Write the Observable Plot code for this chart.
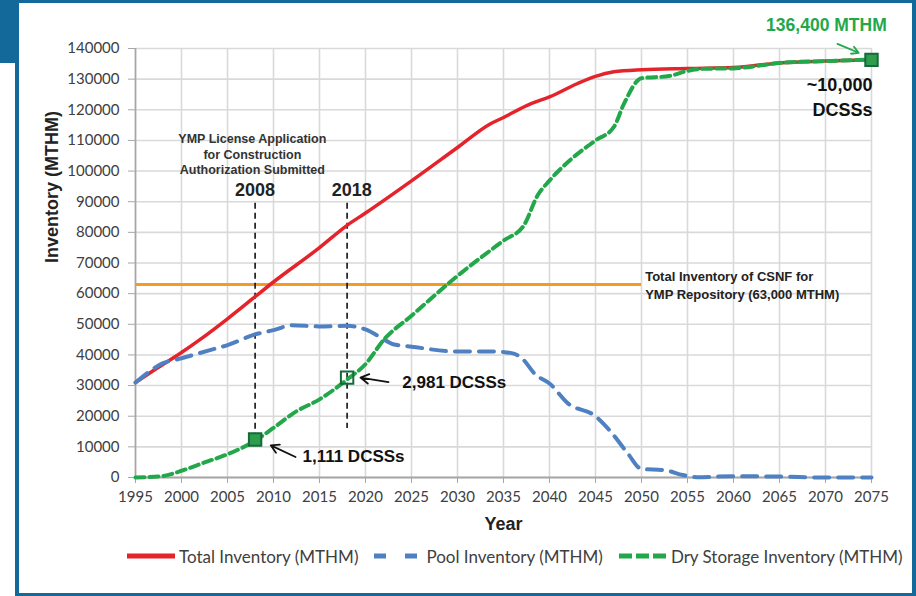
<!DOCTYPE html>
<html>
<head>
<meta charset="utf-8">
<script src="https://cdn.jsdelivr.net/npm/d3@7"></script>
<script src="https://cdn.jsdelivr.net/npm/@observablehq/plot@0.6"></script>
<style>
  body { margin: 0; background: #fff; }
  #wrap { position: relative; width: 916px; height: 596px; overflow: hidden; background: #fff; }
  #chart { position: absolute; left: 0; top: 0; }
  #frame { position: absolute; left: 15px; top: 0; width: 893px; height: 590px; border-style: solid; border-color: #13699a; border-width: 3px 4px 3px 4px; pointer-events: none; }
  #corner { position: absolute; left: 0; top: 0; width: 19px; height: 63px; background: #13699a; }
  #legend { position: absolute; top: 544px; left: 127px; height: 24px; display: flex; align-items: center; gap: 16px; font-family: Lato, sans-serif; font-size: 17px; color: #404040; white-space: nowrap; }
  .item { display: flex; align-items: center; gap: 4px; }
</style>
</head>
<body>
<div id="wrap">
  <div id="chart"></div>
  <div id="legend"></div>
  <div id="frame"></div>
  <div id="corner"></div>
</div>
<script>
// ---- data ----
const totalYears  = [1995, 1997, 2000, 2002, 2005, 2008, 2010, 2015, 2018, 2020, 2025, 2030, 2033.5, 2035, 2038, 2040, 2043, 2045, 2047, 2050, 2055, 2060, 2065, 2070, 2075];
const totalValues = [31000, 35000, 40800, 45000, 51800, 59000, 63800, 75000, 82300, 86300, 96800, 107700, 115300, 117500, 122000, 124200, 128500, 130900, 132400, 133100, 133500, 133800, 135300, 135900, 136300];

const poolYears  = [1995, 1998, 2000, 2003, 2005, 2008, 2010, 2012, 2015, 2018, 2020, 2021.5, 2023, 2025, 2030, 2034, 2036, 2037, 2038.5, 2040, 2042, 2045, 2046.5, 2048.5, 2050, 2052.5, 2054.5, 2056, 2060, 2065, 2070, 2075];
const poolValues = [31000, 37300, 38900, 41500, 43200, 46700, 48100, 49700, 49300, 49500, 48300, 46000, 43500, 42700, 41100, 41100, 40500, 38900, 33500, 30700, 24200, 20000, 15500, 7900, 2800, 2400, 800, 100, 400, 300, 0, 0];

const dryYears  = [1995, 1998, 2000, 2002.5, 2005, 2008, 2010, 2012.5, 2015, 2018, 2020, 2022, 2025, 2030, 2035, 2037.2, 2038.7, 2040, 2042.4, 2045, 2047, 2048.1, 2050, 2053, 2055, 2057, 2060, 2063, 2065, 2070, 2075];
const dryValues = [0, 500, 2200, 4900, 7600, 12000, 16200, 21600, 25500, 32000, 37000, 45000, 52800, 65800, 77300, 82200, 92000, 96900, 104000, 110000, 114400, 122000, 130300, 131000, 132700, 133400, 133500, 134500, 135300, 135900, 136400];

const xTicks = d3.range(1995, 2076, 5);
const yTicks = d3.range(0, 140001, 10000);

const csnfLimit = 63000;
const csnfLimitEnd = 2050;
const csnfLabel = "Total Inventory of CSNF for\nYMP Repository (63,000 MTHM)";

const eventYears = [2008, 2018];
const eventLabels = ["2008", "2018"];
const eventLineTop = 89500;
const eventLineBottom = [12400, 16000];
const ympLabel = "YMP License Application\nfor Construction\nAuthorization Submitted";

const markerYears  = [2008, 2018, 2075];
const markerValues = [12400, 32600, 136300];
const markerFilled = [true, false, true];

const dcssLabels = ["1,111 DCSSs", "2,981 DCSSs"];
const dcssYears = [2013.15, 2024];
const dcssValues = [7000, 31150];
const arrowFrom = [[2012.4, 6700], [2022.5, 31150]];
const arrowTo   = [[2009.7, 10500], [2019.45, 32600]];

const finalLabel = "136,400 MTHM";
const finalCaskLabel = "~10,000\nDCSSs";
const greenArrowFrom = [2071.3, 141500];
const greenArrowTo = [2073.6, 138600];

const legendNames = ["Total Inventory (MTHM)", "Pool Inventory (MTHM)", "Dry Storage Inventory (MTHM)"];
const colors = {total: "#e5232b", pool: "#4f81c2", dry: "#22a84a", limit: "#f59a23", marker: "#2e9e4c", markerStroke: "#17683a", arrowGreen: "#22a84a"};

// ---- build ----
const toRows = (years, values) => years.map((year, i) => ({year, value: values[i]}));
const total = toRows(totalYears, totalValues);
const pool = toRows(poolYears, poolValues);
const dry = toRows(dryYears, dryValues);
const markers = markerYears.map((year, i) => ({year, value: markerValues[i], filled: markerFilled[i]}));
const events = eventYears.map((year, i) => ({year, label: eventLabels[i], bottom: eventLineBottom[i]}));
const dcss = dcssLabels.map((label, i) => ({label, year: dcssYears[i], value: dcssValues[i]}));
const arrows = arrowFrom.map((f, i) => ({x1: f[0], y1: f[1], x2: arrowTo[i][0], y2: arrowTo[i][1]}));

const bold = {fontFamily: "Liberation Sans, Arial, sans-serif", fontWeight: "bold"};

const chart = Plot.plot({
  width: 916,
  height: 540,
  marginLeft: 135,
  marginRight: 45,
  marginTop: 48,
  marginBottom: 63,
  x: {domain: [1995, 2075]},
  y: {domain: [0, 140000]},
  style: {fontFamily: "Lato, sans-serif", fontSize: "15px", color: "#404040", background: "transparent", overflow: "visible"},
  marks: [
    Plot.gridX(xTicks, {stroke: "#d9d9d9", strokeOpacity: 1, strokeWidth: 1.6}),
    Plot.gridY(yTicks, {stroke: "#d9d9d9", strokeOpacity: 1, strokeWidth: 1.6}),
    Plot.ruleX([1995], {stroke: "#a6a6a6", strokeWidth: 1.6}),
    Plot.ruleY([0], {stroke: "#a6a6a6", strokeWidth: 2}),
    Plot.axisX(xTicks, {tickFormat: "d", tickSize: 6, tickPadding: 8, stroke: "#a6a6a6", fill: "#404040", label: null}),
    Plot.axisY(yTicks, {tickFormat: "d", tickSize: 7, tickPadding: 9, stroke: "#a6a6a6", fill: "#404040", label: null}),
    Plot.text(["Year"], {frameAnchor: "bottom", dy: 52, fontSize: 18, fill: "#222", ...bold}),
    Plot.text(["Inventory (MTHM)"], {frameAnchor: "left", dx: -83, rotate: -90, fontSize: 18, fill: "#222", ...bold}),
    // CSNF limit
    Plot.ruleY([csnfLimit], {x1: 1995, x2: csnfLimitEnd, stroke: colors.limit, strokeWidth: 3}),
    Plot.text([csnfLabel], {x: csnfLimitEnd + 0.4, y: csnfLimit, textAnchor: "start", lineAnchor: "middle", lineHeight: 1.4, fontSize: 13, fill: "#222", ...bold}),
    // event lines
    Plot.ruleX(events, {x: "year", y1: eventLineTop, y2: "bottom", stroke: "#111", strokeWidth: 1.6, strokeDasharray: "6,4"}),
    Plot.text(events, {x: d => d.year + (d.year === 2018 ? 0.5 : 0), y: 93600, text: "label", fontSize: 18, fill: "#222", ...bold}),
    Plot.text([ympLabel], {x: 2007.7, y: 105700, lineAnchor: "middle", lineHeight: 1.25, fontSize: 12.5, fill: "#333", ...bold}),
    // series
    Plot.line(total, {x: "year", y: "value", stroke: colors.total, strokeWidth: 3.5, curve: "monotone-x"}),
    Plot.line(pool, {x: "year", y: "value", stroke: colors.pool, strokeWidth: 4, strokeDasharray: "15,9", curve: "monotone-x"}),
    Plot.line(dry, {x: "year", y: "value", stroke: colors.dry, strokeWidth: 4, strokeDasharray: "9,5", curve: "monotone-x"}),
    // markers
    Plot.dot(markers, {x: "year", y: "value", symbol: "square", r: 7, fill: d => d.filled ? colors.marker : "none", stroke: colors.markerStroke, strokeWidth: 2}),
    // DCSS annotations
    Plot.arrow(arrows, {x1: "x1", y1: "y1", x2: "x2", y2: "y2", stroke: "#111", strokeWidth: 1.8, headLength: 9}),
    Plot.text(dcss, {x: "year", y: "value", text: "label", textAnchor: "start", fontSize: 17, fill: "#111", ...bold}),
    Plot.arrow([0], {x1: greenArrowFrom[0], y1: greenArrowFrom[1], x2: greenArrowTo[0], y2: greenArrowTo[1], stroke: colors.arrowGreen, strokeWidth: 1.8, headLength: 9}),
    Plot.text([finalLabel], {x: 2070.1, y: 147400, fontSize: 17.5, fill: colors.arrowGreen, ...bold}),
    Plot.text([finalCaskLabel], {x: 2075.1, y: 124600, textAnchor: "end", lineAnchor: "middle", lineHeight: 1.35, fontSize: 18, fill: "#111", ...bold})
  ]
});
document.getElementById("chart").append(chart);

// ---- legend ----
const swatches = [
  {stroke: colors.total, dash: null},
  {stroke: colors.pool, dash: "12,19"},
  {stroke: colors.dry, dash: "13,4"}
];
const legend = document.getElementById("legend");
legendNames.forEach((name, i) => {
  const item = document.createElement("div");
  item.className = "item";
  const s = swatches[i];
  item.innerHTML = `<svg width="48" height="10"><line x1="0" y1="5" x2="48" y2="5" stroke="${s.stroke}" stroke-width="5"${s.dash ? ` stroke-dasharray="${s.dash}"` : ""}/></svg><span>${name}</span>`;
  legend.append(item);
});
</script>
</body>
</html>
